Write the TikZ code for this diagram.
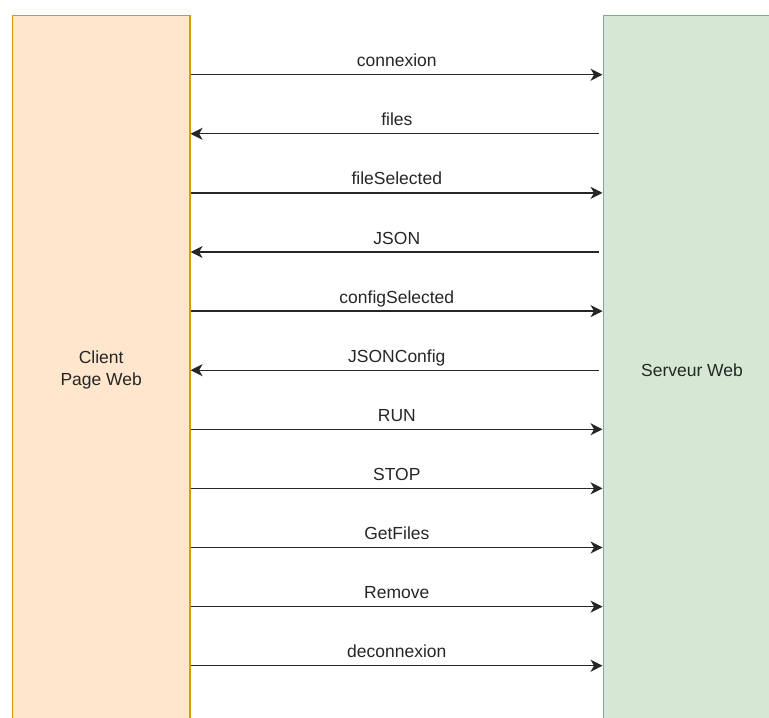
\documentclass[tikz,border=0pt]{standalone}
\usepackage{fontspec}
\setmainfont{Liberation Sans}
\usetikzlibrary{arrows.meta}
\definecolor{cfill}{HTML}{FFE6CC}
\definecolor{cstroke}{HTML}{D79B00}
\definecolor{sfill}{HTML}{D5E8D4}
\definecolor{sstroke}{HTML}{82B366}
\begin{document}
\begin{tikzpicture}[x=1pt,y=1pt,
  box/.style={rectangle, line width=1.3pt, inner sep=0pt, align=center,
    font=\fontsize{17.5}{21.5}\selectfont, text=black!85},
  msg/.style={line width=1.3pt, draw=black!85, -{Stealth[length=12pt,width=12pt,inset=3.5pt]}},
  lbl/.style={midway, anchor=base, yshift=8pt, inner sep=0pt, font=\fontsize{17.5}{21}\selectfont, text=black!85}]
\useasboundingbox (0,0) rectangle (769,-718);
\clip (0,0) rectangle (769,-718);
\node[box, fill=cfill, draw=cstroke, minimum width=177.5pt, minimum height=709.4pt] (client) at (101.2,-370) {Client\\Page Web};
\node[box, fill=sfill, draw=sstroke, minimum width=176.6pt, minimum height=709.4pt] (server) at (692,-370) {Serveur Web};
\foreach \i/\t/\d in {0/connexion/r,1/files/l,2/fileSelected/r,3/JSON/l,4/configSelected/r,5/JSONConfig/l,6/RUN/r,7/STOP/r,8/GetFiles/r,9/Remove/r,10/deconnexion/r}{
  \pgfmathsetmacro{\yy}{-74.7-59.1*\i}
  \coordinate (a\i) at (client.east |- 0,\yy);
  \coordinate (b\i) at (server.west |- 0,\yy);
  \if\d r
    \draw[msg, shorten >=0.5pt] (a\i) -- (b\i) node[lbl] {\t};
  \else
    \draw[msg, shorten <=4pt] (b\i) -- (a\i) node[lbl] {\t};
  \fi
}
\end{tikzpicture}
\end{document}
